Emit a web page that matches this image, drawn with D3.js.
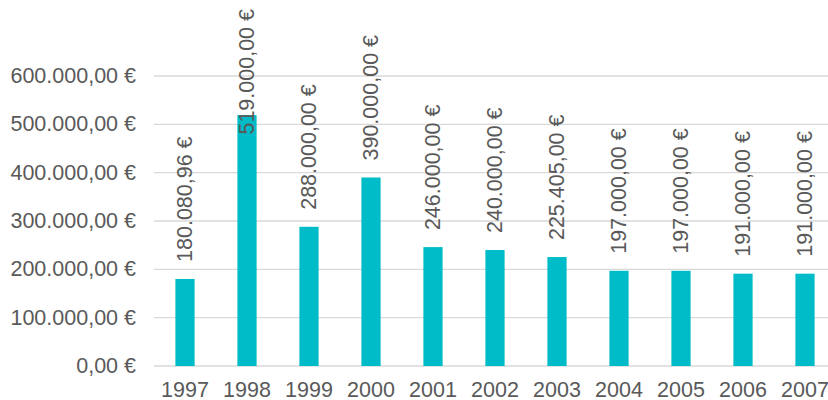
<!DOCTYPE html>
<html><head><meta charset="utf-8">
<script src="https://cdn.jsdelivr.net/npm/d3@7"></script>
<style>body{margin:0;background:#fff;} svg{display:block;}</style>
</head><body>
<svg id="c" width="828" height="400"></svg>
<script>
const years = ["1997","1998","1999","2000","2001","2002","2003","2004","2005","2006","2007"];
const values = [180080.96, 519000, 288000, 390000, 246000, 240000, 225405, 197000, 197000, 191000, 191000];
const yTicks = [0, 100000, 200000, 300000, 400000, 500000, 600000];

const loc = d3.formatLocale({decimal: ",", thousands: ".", grouping: [3], currency: ["", " €"]});
const fmt = loc.format("$,.2f");

const svg = d3.select("#c");
const font = "'Liberation Sans', Arial, sans-serif";
const textColor = "#595959";
const fs = 21.5;

const x = d3.scaleBand().domain(years).range([154, 836]).paddingInner(0.69).paddingOuter(0.345);
const y = d3.scaleLinear().domain([0, 600000]).range([366, 76]);

// gridlines
svg.append("g").selectAll("line").data(yTicks).join("line")
  .attr("x1", 154).attr("x2", 836)
  .attr("y1", d => y(d)).attr("y2", d => y(d))
  .attr("stroke", "#d9d9d9").attr("stroke-width", 1.3);

// y axis labels
svg.append("g").selectAll("text").data(yTicks).join("text")
  .attr("x", 136).attr("y", d => y(d))
  .attr("text-anchor", "end").attr("dominant-baseline", "central")
  .attr("font-family", font).attr("font-size", fs).attr("fill", textColor)
  .text(d => fmt(d));

// bars
svg.append("g").selectAll("rect").data(values).join("rect")
  .attr("x", (d, i) => x(years[i]))
  .attr("width", x.bandwidth())
  .attr("y", d => y(d))
  .attr("height", d => y(0) - y(d))
  .attr("fill", "#00bcc8");

// x labels
svg.append("g").selectAll("text").data(years).join("text")
  .attr("x", d => x(d) + x.bandwidth() / 2).attr("y", 397)
  .attr("text-anchor", "middle")
  .attr("font-family", font).attr("font-size", fs).attr("fill", textColor)
  .text(d => d);

// data labels
const gap = 17, topLimit = 9;
svg.append("g").selectAll("text").data(values).join("text")
  .attr("font-family", font).attr("font-size", fs).attr("fill", textColor)
  .attr("text-anchor", "start").attr("dominant-baseline", "central")
  .text(d => fmt(d))
  .each(function(d, i) {
    const len = this.getComputedTextLength();
    const cx = x(years[i]) + x.bandwidth() / 2;
    const yy = Math.max(y(d) - gap, topLimit + len);
    d3.select(this).attr("transform", `translate(${cx},${yy}) rotate(-90)`);
  });
</script>
</body></html>
